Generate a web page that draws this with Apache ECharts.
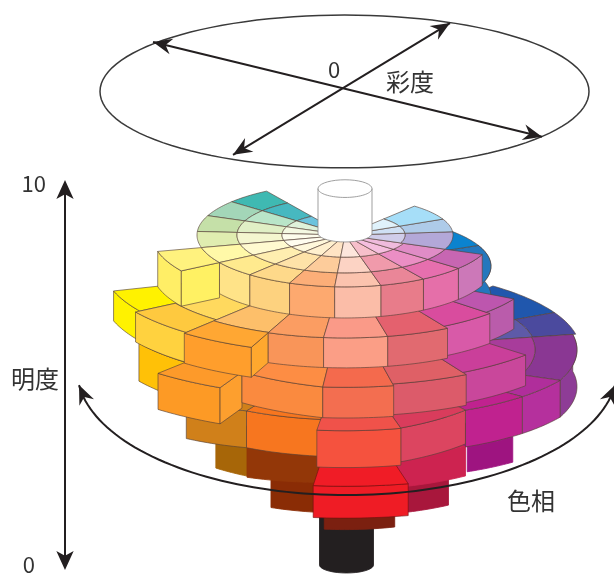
<!DOCTYPE html>
<html><head><meta charset="utf-8">
<style>html,body{margin:0;padding:0;background:#fff}#c{width:614px;height:576px}</style>
<script src="https://cdn.jsdelivr.net/npm/echarts@6/dist/echarts.min.js"></script>
</head><body><div id="c"></div>
<script>
// ---- DATA: hue angle (deg), chroma, value ----
const levelValue = [8.67, 7.86, 7.03, 5.68, 4.69, 3.85, 3.33];
const levelDrop  = [0.81, 0.78, 0.80, 0.96, 0.78, 0.76, 0.78];

// [hueStart, hueEnd, chromaIn, chromaOut, (optional) drop, (optional) chromaOut at hueEnd]
const level1Cells = [
 [122,140,10.8,14.8],[122,140,6.3,10.8],[122,140,0,6.3],
 [140,158,10.8,14.8],[140,158,6.3,10.8],[140,158,0,6.3],
 [158,176,10.8,14.8],[158,176,6.3,10.8],[158,176,0,6.3],
 [176,194,10.8,14.8],[176,194,6.3,10.8],[176,194,0,6.3],
 [194,212,14.8,19.3,0.92],[194,212,10.8,14.8],[194,212,6.3,10.8],[194,212,0,6.3],
 [212,230,10.8,14.8],[212,230,6.3,10.8],[212,230,0,6.3],
 [230,248,10.8,14.8],[230,248,6.3,10.8],[230,248,0,6.3],
 [248,266,10.8,14.8],[248,266,6.3,10.8],[248,266,0,6.3],
 [266,284,10.8,14.8],[266,284,6.3,10.8],[266,284,0,6.3],
 [284,302,10.8,14.8],[284,302,6.3,10.8],[284,302,0,6.3],
 [302,320,10.8,14.8],[302,320,6.3,10.8],[302,320,0,6.3],
 [320,338,10.8,14.8],[320,338,6.3,10.8],[320,338,0,6.3],
 [338,365,6.0,10.8],[338,365,0,6.0],
 [365,385,6.0,10.8],[365,385,0,6.0],
 [385,410,6.0,10.8],[385,410,0,6.0]
];
const level2Cells = [
 [331,384,0,14.6],[384,404,0,14.6],
 [197,212,0,24.2],[212,230,0,20],[212,230,20,24.7],[230,248,0,20.4],[230,248,20.4,25],
 [248,264,0,20.5],[264,282,0,20.5],[282,300,0,20.5],[300,317,0,19.8],[317,331,0,19.3]
];
const level3Cells = [
 [212,229,0,24.3,0.99],[229,244,0,28.5,0.94],[244,265,0,23.5,null,25.5],[265,281,0,25.5],
 [281,299,0,25],[299,318,0,24.3]
];
const level4Cells = [
 [27,51,0,23.5],[11,27,19.1,23.5],[11,27,0,19.1],[338,371,19,23.2],[338,371,0,19],
 [323,338,0,22.2,null,23.2],[305,323,0,21,null,22.2],[284,305,0,23,0.88,21],[263,284,0,23.1],
 [240.5,263,0,20],[223,240.5,0,21.7,null,20]
];
const level5Cells = [
 [228,240,0,19.3],[240,263.5,0,19.6,null,18.5],[283,306,0,20.5],[306,320,0,20.8,0.65,21.9],[263.5,283,0,28.1,0.83]
];
const level6Cells = [[246,264,0,18.2],[284,303,0,19]];
const level7Cells = [[263,287,0,17]];

// [hueAngle, chromaIn, chromaOut, drop]
const level1Steps = [[212,14.8,19.3,0.92]];
const level2Steps = [[248,20.5,25,0.78]];
const level3Steps = [[244,23.5,28.5,0.94]];

// [centre chroma offset, base value, top value, radius, depth]
const whiteCore = [0.0, 8.72, 9.88, 2.7, 0.23];
const blackCore = [0.15, 0.08, 1.40, 2.7, 0.21];

const chromaEllipse = [-0.05, 12.41, 24.45, 1.99];
const chromaArrows = [[[-19.2,13.70],[19.7,11.23]],[[10.5,14.19],[-11.2,10.76]]];
const hueArc = [0.2, 5.16, 27, 3.26, 187, 353];
const valueTicks = [0, 10];

// ---- STYLES ----
const level1Colors = [
 ['#3fb9b2'],['#47b8c0'],['#6cc3dd'],
 ['#a3d6b8'],['#b9e5c8'],['#dff2da'],
 ['#c5e0a8'],['#e0efc5'],['#f4f9e2'],
 ['#e0edb0'],['#f4f6cf'],['#fdfdec'],
 ['#fff27e','#ffee66'],['#fff9a8'],['#fffad0'],['#fffdef'],
 ['#ffea8e','#ffe388'],['#ffeeb0'],['#fff8db'],
 ['#fed98a','#fdd27f'],['#fee2a8'],['#fff0ce'],
 ['#fcae78','#fda96f'],['#fdcc9b'],['#ffe4c4'],
 ['#fbc3ae','#fbbda8'],['#fcd3c4'],['#fde6dc'],
 ['#ea8698','#e87c8a'],['#f09aab'],['#f7bfcb'],
 ['#e66fae','#e56fa9'],['#eb8ec4'],['#f5bede'],
 ['#c766b2','#cc78b8'],['#e08cc6'],['#efbbdd'],
 ['#b3a8d8'],['#d0cdea'],['#aecbe9'],['#cfe0f4'],['#a6def8'],['#e0f2fb']
];
const level2Colors = [
 ['#2477bd','#2477bd'],['#0b83cf'],
 ['#fff200','#fff200'],['#ffd95e'],['#fec93f','#ffd23f'],['#fdbf6a'],['#ffa733','#ff9e2c'],
 ['#fb9d62','#f99559'],['#fa9a88','#fb9e86'],['#e4616e','#e16a70'],['#d94c9e','#d85aa8'],['#bd56ae','#ba5cab']
];
const level3Colors = [
 ['#ffbd10','#ffc107'],['#fd9a2a','#fd9a25'],['#fd8d44','#fa8a3f'],['#f46a4d','#f36e50'],
 ['#df6066','#dc5b6a'],['#ca3f9a','#c9479b']
];
const level4Colors = [
 ['#2057ad'],['#4b4a9e'],['#5e5aa8'],['#8a3793','#8e3c96'],['#a83c9b'],
 ['#b02e9b','#b5309d'],['#c0228f','#c0228f'],['#d93c5c','#dc4560'],['#f0524a','#f5523e'],
 ['#f7761f','#f7761f'],['#d0801a','#d0801a']
];
const level5Colors = [
 ['#a76608','#a76608'],['#933708','#933708'],['#cd2350','#cd2350'],['#9e1480','#9e1480'],['#f01c26','#ef1c25','rgba(110,15,15,.7)']
];
const level6Colors = [['#8a2c05','#8a2c05'],['#a8173c','#a8173c']];
const level7Colors = [['#7b2010','#7b2010']];
const level1StepColors = ['#fff163'];
const level2StepColors = ['#ffa82e'];
const level3StepColors = ['#fd9f2e'];
const EDGE = 'rgba(85,65,55,.75)';
const levelEdges = [EDGE,EDGE,EDGE,EDGE,null,null,null];
const INK = '#231f20';

// ---- PROJECTION (through the axes) ----
const PX_PER_VALUE = 38.4, PX_PER_CHROMA = 10, TILT = 0.35, DEG = Math.PI/180;
const yDown = c => c*PX_PER_CHROMA*TILT/PX_PER_VALUE;
const project = (a,c,v) => [c*Math.cos(a*DEG), v + yDown(c)*Math.sin(a*DEG)];
const arc = (a0,a1,c0,c1,v,n=14) => Array.from({length:n+1},(_,i)=>project(a0+(a1-a0)*i/n,c0+(c1-c0)*i/n,v));

const faces = [];
const cellSets = [level1Cells,level2Cells,level3Cells,level4Cells,level5Cells,level6Cells,level7Cells];
const colorSets = [level1Colors,level2Colors,level3Colors,level4Colors,level5Colors,level6Colors,level7Colors];
const stepSets = [level1Steps,level2Steps,level3Steps,[],[],[],[]];
const stepColorSets = [level1StepColors,level2StepColors,level3StepColors,[],[],[],[]];

function core(c){
  const [x,v0,v1,r,d]=c, pts=[];
  for(let i=0;i<=18;i++){const t=180+180*i/18;pts.push([x+r*Math.cos(t*DEG),v0+d*Math.sin(t*DEG)]);}
  for(let i=0;i<=18;i++){const t=180*i/18;pts.push([x+r*Math.cos(t*DEG),v1+d*Math.sin(t*DEG)]);}
  return pts;
}
faces.push({pts:core(blackCore),fill:INK,stroke:INK});
for(let L=6;L>=0;L--){
  const v=levelValue[L], edge=levelEdges[L], walls=[], tops=[];
  cellSets[L].forEach((cell,i)=>{
    const [a0,a1,r0,r1,dropO,r1E]=cell, [top,wall,line]=colorSets[L][i], drop=dropO||levelDrop[L];
    const e=line||edge, rEnd=r1E==null?r1:r1E;
    if(wall){
      const up=arc(a0,a1,r1,rEnd,v), down=arc(a1,a0,rEnd,r1,v-drop);
      walls.push({k:Math.sin((a0+a1)/2*DEG),f:{pts:up.concat(down),fill:wall,stroke:e||wall}});
    }
    const out=arc(a0,a1,r1,rEnd,v);
    const inner=r0>0?arc(a1,a0,r0,r0,v):[project(a0,0,v)];
    tops.push({pts:out.concat(inner),fill:top,stroke:e||top});
  });
  stepSets[L].forEach((s,i)=>{
    const [a,r0,r1,drop]=s;
    walls.push({k:Math.sin(a*DEG),f:{pts:[project(a,r0,v),project(a,r1,v),project(a,r1,v-drop),project(a,r0,v-drop)],fill:stepColorSets[L][i],stroke:edge}});
  });
  walls.sort((p,q)=>q.k-p.k).forEach(w=>faces.push(w.f));
  tops.forEach(t=>faces.push(t));
}
faces.push({pts:core(whiteCore),fill:'#fff',stroke:'#8f8f8f'});
{
  const [x,,v1,r,d]=whiteCore, pts=[];
  for(let i=0;i<=36;i++){const t=180+180*i/36;pts.push([x+r*Math.cos(t*DEG),v1+d*Math.sin(t*DEG)]);}
  faces.push({pts,fill:'none',stroke:'#8f8f8f',open:true});
}

// ---- ANNOTATIONS ----
function arrowHead(tip,from,len,half,fill){
  const dx=tip[0]-from[0],dy=tip[1]-from[1],l=Math.hypot(dx,dy),ux=dx/l,uy=dy/l,nx=-uy,ny=ux;
  return {type:'polygon',shape:{points:[tip,
    [tip[0]-ux*len+nx*half,tip[1]-uy*len+ny*half],
    [tip[0]-ux*len*.68,tip[1]-uy*len*.68],
    [tip[0]-ux*len-nx*half,tip[1]-uy*len-ny*half]]},style:{fill}};
}
const renderFace=(params,api)=>{
  const f=faces[api.value(0)], points=f.pts.map(p=>api.coord(p));
  return {type:f.open?'polyline':'polygon',shape:{points},
    style:{fill:f.open?null:f.fill,stroke:f.stroke,lineWidth:0.85,lineJoin:'round'}};
};
const renderNotes=(params,api)=>{
  const kids=[];
  const [ex,ev,erx,ery]=chromaEllipse, ell=[];
  for(let i=0;i<=120;i++){const t=i*3*DEG;ell.push(api.coord([ex+erx*Math.cos(t),ev+ery*Math.sin(t)]));}
  kids.push({type:'polyline',shape:{points:ell},style:{stroke:'#3a3a3a',lineWidth:1.5,fill:null}});
  chromaArrows.forEach(([a,b])=>{
    const A=api.coord(a),B=api.coord(b);
    kids.push({type:'line',shape:{x1:A[0],y1:A[1],x2:B[0],y2:B[1]},style:{stroke:INK,lineWidth:2}});
    kids.push(arrowHead(A,B,19,8,INK));kids.push(arrowHead(B,A,19,8,INK));
  });
  const [hx,hv,hrx,hry,t0,t1]=hueArc, hp=[];
  for(let i=0;i<=90;i++){const t=(t0+(t1-t0)*i/90)*DEG;hp.push(api.coord([hx+hrx*Math.cos(t),hv+hry*Math.sin(t)]));}
  kids.push({type:'polyline',shape:{points:hp},style:{stroke:INK,lineWidth:2,fill:null}});
  kids.push(arrowHead(hp[0],hp[5],19,8,INK));
  kids.push(arrowHead(hp[90],hp[85],19,8,INK));
  return {type:'group',children:kids};
};

const FONT='"Noto Sans CJK JP","Noto Sans",sans-serif';
const txt=(x,y,s,size)=>({type:'text',x,y,style:{text:s,fill:'#333',font:`400 ${size}px ${FONT}`,textAlign:'center',textVerticalAlign:'middle'},z:10});

const chart=echarts.init(document.getElementById('c'),null,{renderer:'canvas'});
chart.setOption({
  animation:false,backgroundColor:'#fff',
  grid:[{left:0,top:0,width:614,height:576,containLabel:false},{left:65,top:184,width:10,height:384,containLabel:false}],
  xAxis:[{type:'value',gridIndex:0,min:-34.5,max:26.9,show:false},{type:'value',gridIndex:1,min:0,max:1,show:false}],
  yAxis:[
    {type:'value',gridIndex:0,min:-8/PX_PER_VALUE,max:568/PX_PER_VALUE,show:false},
    {type:'value',gridIndex:1,min:valueTicks[0],max:valueTicks[1],interval:10,position:'left',
     axisLine:{show:true,onZero:false,symbol:['arrow','arrow'],symbolSize:[13,19],symbolOffset:[-8,4],lineStyle:{color:INK,width:2}},
     axisTick:{show:false},splitLine:{show:false},
     axisLabel:{show:true,margin:19,color:'#333',fontSize:22,fontFamily:FONT,fontWeight:400,
       formatter:v=>v===0?'{z|0}':String(v),rich:{z:{fontSize:22,fontFamily:FONT,fontWeight:400,color:'#333',padding:[6,11,0,0]}}}}
  ],
  series:[
    {type:'custom',coordinateSystem:'cartesian2d',xAxisIndex:0,yAxisIndex:0,clip:false,silent:true,
     renderItem:renderFace,encode:{x:1,y:2},data:faces.map((f,i)=>[i,0,5])},
    {type:'custom',coordinateSystem:'cartesian2d',xAxisIndex:0,yAxisIndex:0,clip:false,silent:true,
     renderItem:renderNotes,encode:{x:1,y:2},data:[[0,0,5]]}
  ],
  graphic:[txt(334,70,'0',22),txt(410,82,'彩度',24),txt(35,379,'明度',24),txt(531,501,'色相',24)]
});
</script></body></html>
